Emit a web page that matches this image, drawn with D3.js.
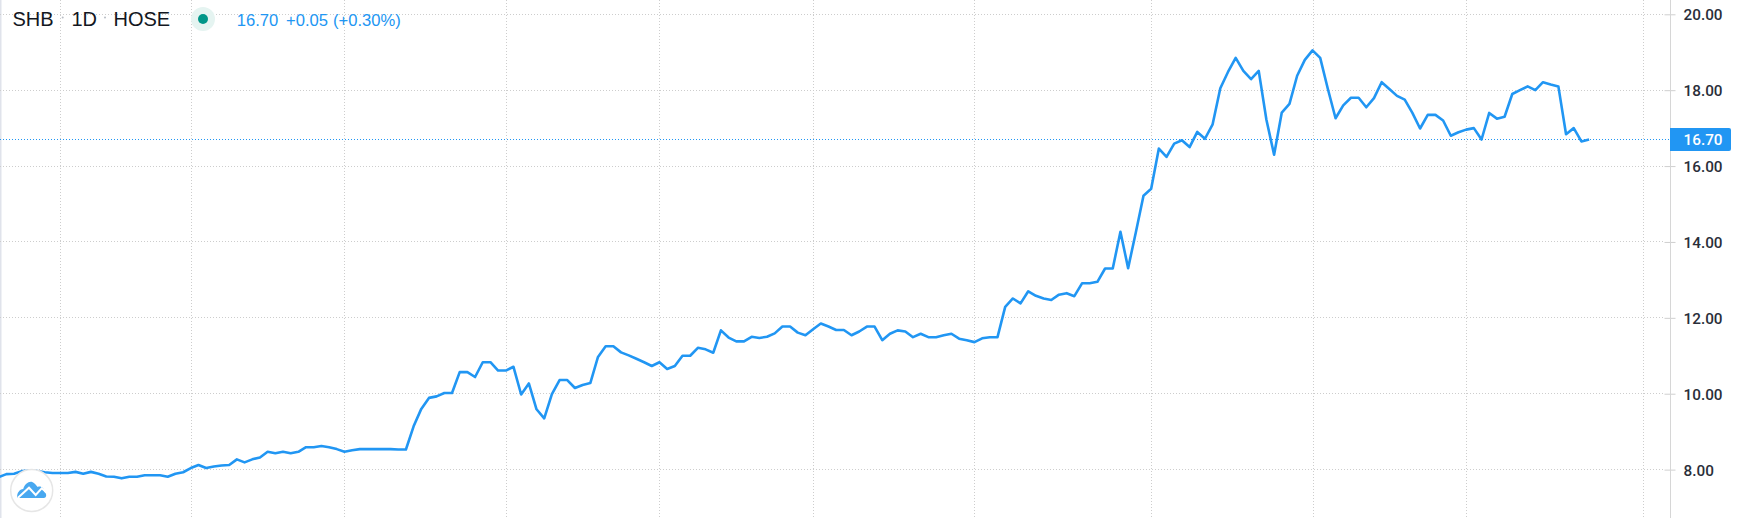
<!DOCTYPE html>
<html><head><meta charset="utf-8">
<style>html,body{margin:0;padding:0;background:#fff}svg{display:block}</style>
<script src="https://cdnjs.cloudflare.com/ajax/libs/d3/7.8.5/d3.min.js"></script>
</head><body><svg id="c" width="1755" height="518"></svg>
<script>
const closes=[7.80,7.88,7.89,7.96,7.97,7.96,7.93,7.91,7.91,7.91,7.94,7.89,7.94,7.89,7.82,7.81,7.77,7.81,7.81,7.85,7.85,7.85,7.81,7.89,7.93,8.04,8.12,8.04,8.08,8.11,8.12,8.27,8.19,8.27,8.32,8.47,8.43,8.47,8.43,8.47,8.59,8.59,8.62,8.59,8.54,8.47,8.51,8.54,8.54,8.54,8.54,8.54,8.53,8.53,
9.14,9.60,9.89,9.93,10.02,10.02,10.57,10.57,10.44,10.83,10.83,10.61,10.61,10.71,9.98,10.27,9.59,9.35,9.99,10.36,10.36,10.15,10.23,10.28,10.97,11.25,11.25,11.09,11.01,10.92,10.83,10.73,10.83,10.65,10.73,11.00,11.00,11.21,11.17,11.08,11.67,11.48,11.38,11.38,11.50,11.47,11.50,11.59,11.77,11.77,11.61,11.54,11.70,11.85,11.77,11.68,11.68,11.54,11.64,11.77,11.77,11.41,11.58,11.67,11.64,11.49,11.58,11.49,11.49,11.54,11.58,11.45,11.41,11.36,11.46,11.49,11.49,12.29,12.51,12.38,12.70,12.58,12.51,12.47,12.61,12.65,12.57,12.91,12.91,12.95,13.30,13.30,14.27,13.31,14.25,15.22,15.40,16.46,16.24,16.59,16.68,16.50,16.90,16.72,17.10,18.05,18.48,18.85,18.51,18.29,18.51,17.22,16.30,17.41,17.64,18.38,18.80,19.05,18.85,18.03,17.26,17.60,17.80,17.80,17.55,17.79,18.21,18.03,17.85,17.75,17.40,16.99,17.35,17.35,17.20,16.80,16.89,16.96,17.00,16.70,17.40,17.25,17.30,17.90,18.00,18.10,18.00,18.21,18.15,18.10,16.84,17.00,16.65,16.70];
const priceTicks=[8,10,12,14,16,18,20];
const timeGridBars=[8,25,45,66,86,106,127,150,171,191,214];
const lastPrice=16.70;
const symbolParts=["SHB","1D","HOSE"];
const quoteParts=["16.70","+0.05","(+0.30%)"];

const blue="#2196f3";
const svg=d3.select("#c");
const x=d3.scaleLinear().domain([0,closes.length-1]).range([-1.28,1589.1]);
const y=d3.scaleLinear().domain([8,20]).range([469.6,14.3]);
const axisX=1670.5, H=518;

svg.append("rect").attr("x",0).attr("y",0).attr("width",1.5).attr("height",H).attr("fill","#e0e3eb");

const grid=svg.append("g").attr("stroke","#cdcdcd").attr("stroke-width",1).attr("stroke-dasharray","1 2").attr("fill","none");
grid.selectAll("line.h").data(priceTicks).join("line").attr("class","h")
  .attr("x1",0).attr("x2",axisX-6).attr("y1",d=>Math.floor(y(d))+.5).attr("y2",d=>Math.floor(y(d))+.5);
grid.selectAll("line.v").data(timeGridBars).join("line").attr("class","v")
  .attr("x1",d=>Math.round(x(d))+.5).attr("x2",d=>Math.round(x(d))+.5).attr("y1",0).attr("y2",H);

svg.append("line").attr("x1",0).attr("x2",axisX).attr("y1",Math.floor(y(lastPrice))+.5).attr("y2",Math.floor(y(lastPrice))+.5)
  .attr("stroke",blue).attr("stroke-width",1).attr("stroke-dasharray","1 2");

const line=d3.line().x((d,i)=>x(i)).y(d=>y(d));
svg.append("path").datum(closes).attr("d",line).attr("fill","none").attr("stroke",blue).attr("stroke-width",2.6).attr("stroke-linejoin","round");

const ax=svg.append("g").attr("transform",`translate(${axisX},0)`)
  .call(d3.axisRight(y).tickValues(priceTicks).tickFormat(d3.format(".2f")).tickSize(5).tickPadding(8));
ax.select(".domain").remove();
svg.append("line").attr("x1",axisX).attr("x2",axisX).attr("y1",0).attr("y2",H).attr("stroke","#d6d6d6");
ax.selectAll(".tick line").attr("stroke","#cfcfcf").attr("x1",-6);
ax.selectAll(".tick text").attr("fill","#2a2e39").attr("font-family","Roboto").attr("font-weight",500).attr("font-size",15.3).attr("dy","0.36em");

const ly=y(lastPrice);
svg.append("path").attr("d",`M${axisX-.5} ${ly-11.5}H1729a2 2 0 0 1 2 2V${ly+9.5}a2 2 0 0 1 -2 2H${axisX-.5}Z`).attr("fill",blue);
svg.append("text").attr("x",axisX+13).attr("y",ly).attr("dy","0.36em").attr("fill","#fff").attr("font-family","Roboto").attr("font-weight",500).attr("font-size",15.3).text(d3.format(".2f")(lastPrice));

const hdr=svg.append("g").attr("font-family","Liberation Sans");
const symX=[12.5,71.5,113.5];
hdr.selectAll("text.s").data(symbolParts).join("text").attr("class","s").attr("x",(d,i)=>symX[i]).attr("y",26).attr("font-size",20).attr("fill","#131722").text(d=>d);
hdr.selectAll("circle.sep").data([62.7,105]).join("circle").attr("class","sep").attr("cx",d=>d).attr("cy",17.5).attr("r",1).attr("fill","#b8bcc4");
hdr.append("circle").attr("cx",203).attr("cy",19).attr("r",12).attr("fill","#e5f4f1");
hdr.append("circle").attr("cx",203).attr("cy",19).attr("r",5).attr("fill","#009688");
const qX=[236.7,286,333];
hdr.selectAll("text.q").data(quoteParts).join("text").attr("class","q").attr("x",(d,i)=>qX[i]).attr("y",26).attr("font-size",16.6).attr("fill",blue).text(d=>d);

const logo=svg.append("g").attr("transform","translate(31.7,490.5)");
logo.append("circle").attr("r",21).attr("fill","#fff").attr("stroke","#e6e6e6").attr("stroke-width",1.5);
logo.append("path").attr("fill","#48a8f0").attr("d","M-14.5 7.5C-15 2 -12 -1 -8.5 -1.5C-7 -6.5 -3 -9.5 0.5 -8.5C3 -7.5 4.5 -5 6 -3.5C9 -5 12.5 -2.5 12.5 1.5C15 2.5 15.5 7.5 12 7.5Z");
logo.append("path").attr("fill","none").attr("stroke","#fff").attr("stroke-width",2).attr("d","M-14 7.5L-2.7 -2.8L4 4.5L10 -2.2L15 2");
</script></body></html>
